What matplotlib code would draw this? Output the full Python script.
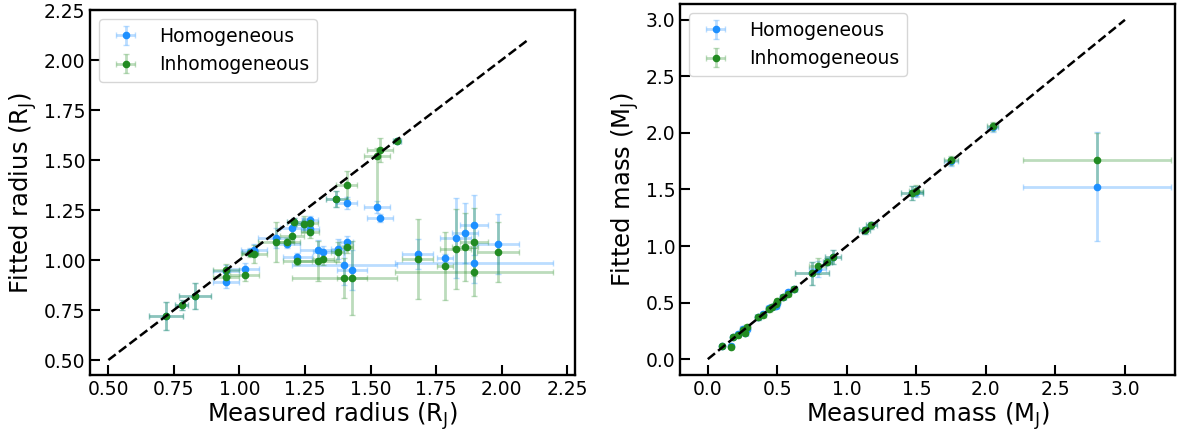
import numpy as np
import matplotlib
matplotlib.use('Agg')
import matplotlib.pyplot as plt

# ---- radius panel data (R_J) ----
r_meas = [0.72, 0.78, 0.83, 0.95, 0.95, 1.02, 1.04, 1.055, 1.14, 1.18, 1.20, 1.21,
          1.245, 1.27, 1.27, 1.22, 1.30, 1.32, 1.375, 1.41, 1.40, 1.43, 1.37, 1.41,
          1.525, 1.535, 1.60, 1.68, 1.785, 1.825, 1.86, 1.895, 1.895, 1.985]
r_meas_err = [0.065, 0.025, 0.06, 0.05, 0.05, 0.055, 0.03, 0.05, 0.07, 0.05, 0.045, 0.03,
              0.03, 0.03, 0.035, 0.055, 0.07, 0.04, 0.025, 0.025, 0.2, 0.057, 0.04, 0.04,
              0.05, 0.05, 0.015, 0.06, 0.03, 0.06, 0.05, 0.055, 0.30, 0.08]
r_hom = [0.72, 0.775, 0.82, 0.945, 0.89, 0.955, 1.04, 1.05, 1.11, 1.08, 1.16, 1.19,
         1.18, 1.20, 1.155, 1.015, 1.05, 1.04, 1.055, 1.09, 0.975, 0.95, 1.305, 1.285,
         1.265, 1.21, 1.595, 1.03, 1.01, 1.11, 1.135, 1.175, 0.985, 1.08]
r_hom_err = [0.07, 0.025, 0.065, 0.03, 0.03, 0.03, 0.02, 0.03, 0.05, 0.02, 0.03, 0.02,
             0.03, 0.02, 0.03, 0.02, 0.05, 0.03, 0.05, 0.03, 0.1, 0.1, 0.04, 0.03,
             0.03, 0.02, 0.01, 0.075, 0.02, 0.2, 0.15, 0.15, 0.1, 0.15]
r_inh = [0.72, 0.775, 0.82, 0.95, 0.915, 0.925, 1.035, 1.03, 1.09, 1.09, 1.12, 1.19,
         1.18, 1.185, 1.14, 0.995, 0.995, 1.005, 1.04, 1.065, 0.91, 0.91, 1.305, 1.375,
         1.52, 1.55, 1.595, 1.005, 0.97, 1.055, 1.065, 1.09, 0.94, 1.04]
r_inh_err_lo = [0.07, 0.025, 0.065, 0.03, 0.03, 0.03, 0.02, 0.045, 0.1, 0.02, 0.03, 0.02,
                0.04, 0.02, 0.03, 0.02, 0.1, 0.03, 0.05, 0.03, 0.1, 0.185, 0.04, 0.07,
                0.25, 0.06, 0.01, 0.2, 0.17, 0.2, 0.17, 0.17, 0.12, 0.15]
r_inh_err_hi = [0.07, 0.025, 0.065, 0.03, 0.03, 0.03, 0.02, 0.045, 0.1, 0.02, 0.03, 0.02,
                0.04, 0.02, 0.03, 0.02, 0.1, 0.03, 0.05, 0.03, 0.1, 0.185, 0.04, 0.07,
                0.04, 0.06, 0.01, 0.2, 0.17, 0.2, 0.17, 0.17, 0.12, 0.15]

# ---- mass panel data (M_J) ----
m_meas = [0.105, 0.17, 0.18, 0.22, 0.25, 0.27, 0.28, 0.36, 0.40, 0.44, 0.46, 0.49,
          0.50, 0.54, 0.58, 0.62, 0.75, 0.79, 0.86, 0.90, 1.13, 1.175, 1.47, 1.50,
          1.75, 2.05, 2.80]
m_meas_err = [0.01, 0.01, 0.01, 0.01, 0.02, 0.02, 0.02, 0.02, 0.02, 0.02, 0.02, 0.02,
              0.02, 0.02, 0.02, 0.02, 0.125, 0.06, 0.03, 0.06, 0.04, 0.04, 0.08, 0.05,
              0.05, 0.04, 0.53]
m_hom = [0.118, 0.12, 0.20, 0.22, 0.27, 0.23, 0.27, 0.37, 0.40, 0.45, 0.46, 0.47,
         0.50, 0.55, 0.59, 0.62, 0.76, 0.80, 0.86, 0.905, 1.14, 1.185, 1.47, 1.48,
         1.75, 2.05, 1.525]
m_hom_err = [0.01, 0.01, 0.01, 0.01, 0.02, 0.02, 0.02, 0.02, 0.02, 0.02, 0.02, 0.02,
             0.02, 0.02, 0.02, 0.02, 0.1, 0.07, 0.03, 0.06, 0.03, 0.03, 0.06, 0.05,
             0.04, 0.04, 0.48]
m_inh = [0.118, 0.11, 0.20, 0.21, 0.26, 0.23, 0.28, 0.37, 0.39, 0.44, 0.465, 0.49,
         0.51, 0.55, 0.58, 0.62, 0.76, 0.82, 0.86, 0.905, 1.14, 1.185, 1.47, 1.49,
         1.76, 2.06, 1.76]
m_inh_err = [0.01, 0.01, 0.01, 0.01, 0.02, 0.02, 0.02, 0.02, 0.02, 0.02, 0.02, 0.02,
             0.02, 0.02, 0.02, 0.02, 0.1, 0.07, 0.03, 0.06, 0.03, 0.03, 0.06, 0.05,
             0.04, 0.04, 0.24]

blue = '#1E90FF'
green = '#228B22'

fig = plt.figure(figsize=(11.93, 4.30), dpi=100)
ax1 = fig.add_axes([90 / 1193, 55 / 430, 485 / 1193, 365 / 430])
ax2 = fig.add_axes([680 / 1193, 55 / 430, 495 / 1193, 371 / 430])


def draw(ax, x, xe, yh, yhe, yi, yie):
    ax.errorbar(x, yh, xerr=xe, yerr=yhe, fmt='o', color=blue, ms=4.5,
                ecolor=(0.118, 0.565, 1.0, 0.3), elinewidth=2, capsize=2,
                capthick=1, label='Homogeneous', zorder=3)
    ax.errorbar(x, yi, xerr=xe, yerr=yie, fmt='o', color=green, ms=4.5,
                ecolor=(0.133, 0.545, 0.133, 0.3), elinewidth=2, capsize=2,
                capthick=1, label='Inhomogeneous', zorder=3)


draw(ax1, r_meas, r_meas_err, r_hom, r_hom_err, r_inh,
     [r_inh_err_lo, r_inh_err_hi])
ax1.plot([0.5, 2.1], [0.5, 2.1], 'k--', lw=1.8, zorder=4)
ax1.set_xlim(0.43, 2.28)
ax1.set_ylim(0.425, 2.25)
ax1.set_xticks(np.arange(0.5, 2.26, 0.25))
ax1.set_yticks(np.arange(0.5, 2.26, 0.25))
ax1.set_xlabel(r'Measured radius (R$_\mathrm{J}$)', fontsize=17.5, labelpad=1)
ax1.set_ylabel(r'Fitted radius (R$_\mathrm{J}$)', fontsize=17.5, labelpad=3)

draw(ax2, m_meas, m_meas_err, m_hom, m_hom_err, m_inh, m_inh_err)
ax2.plot([0, 3], [0, 3], 'k--', lw=1.8, zorder=4)
ax2.set_xlim(-0.2, 3.36)
ax2.set_ylim(-0.14, 3.14)
ax2.set_xticks(np.arange(0, 3.01, 0.5))
ax2.set_yticks(np.arange(0, 3.01, 0.5))
ax2.set_xlabel(r'Measured mass (M$_\mathrm{J}$)', fontsize=17.5, labelpad=1)
ax2.set_ylabel(r'Fitted mass (M$_\mathrm{J}$)', fontsize=17.5, labelpad=3)

for ax in (ax1, ax2):
    ax.tick_params(direction='in', length=7, width=1.5, labelsize=13.5)
    for s in ax.spines.values():
        s.set_linewidth(1.7)
    ax.legend(loc='upper left', fontsize=13.5)

fig.savefig('out.png', dpi=100)
